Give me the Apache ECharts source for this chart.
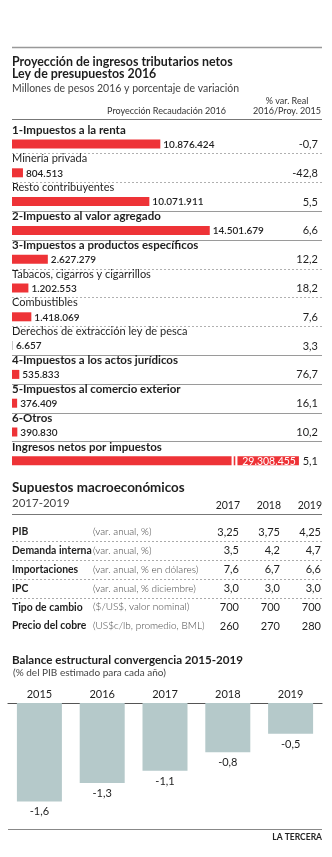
<!DOCTYPE html>
<html>
<head>
<meta charset="utf-8">
<script src="https://cdn.jsdelivr.net/npm/echarts@6/dist/echarts.min.js"></script>
<style>
html, body { margin: 0; padding: 0; background: #fff; }
#chart { width: 332px; height: 857px; }
</style>
</head>
<body>
<div id="chart"></div>
<script>
// Proyección de ingresos tributarios netos 2016
const rowNames = [
  '1-Impuestos a la renta',
  'Minería privada',
  'Resto contribuyentes',
  '2-Impuesto al valor agregado',
  '3-Impuestos a productos específicos',
  'Tabacos, cigarros y cigarrillos',
  'Combustibles',
  'Derechos de extracción ley de pesca',
  '4-Impuestos a los actos jurídicos',
  '5-Impuestos al comercio exterior',
  '6-Otros',
  'Ingresos netos por impuestos'
];
const rowValues = [10876424, 804513, 10071911, 14501679, 2627279, 1202553, 1418069, 6657, 535833, 376409, 390830, 29308455];
const rowChange = ['-0,7', '-42,8', '5,5', '6,6', '12,2', '18,2', '7,6', '3,3', '76,7', '16,1', '10,2', '5,1'];
const rowIsMain = [true, false, false, true, true, false, false, false, true, true, true, true];

// Supuestos macroeconómicos 2017-2019
const macroYears = ['2017', '2018', '2019'];
const macroNames = ['PIB', 'Demanda interna', 'Importaciones', 'IPC', 'Tipo de cambio', 'Precio del cobre'];
const macroUnits = ['(var. anual, %)', '(var. anual, %)', '(var. anual, % en dólares)', '(var. anual, % diciembre)', '($/US$, valor nominal)', '(US$c/lb, promedio, BML)'];
const macro2017 = [3.25, 3.5, 7.6, 3.0, 700, 260];
const macro2018 = [3.75, 4.2, 6.7, 3.0, 700, 270];
const macro2019 = [4.25, 4.7, 6.6, 3.0, 700, 280];
const macroDecimals = [2, 1, 1, 1, 0, 0];

// Balance estructural convergencia 2015-2019
const balanceYears = ['2015', '2016', '2017', '2018', '2019'];
const balanceValues = [-1.6, -1.3, -1.1, -0.8, -0.5];

// Value axis break for the total row
const AXIS_BREAK = { start: 16100000, end: 24800000, gap: '1.9%' };

const FONT = 'Lato';
const INK = '#1e1e1e';
const RED = '#ee3337';
const LEFT = 12, RIGHT = 322;

function fmtThousands(v) {
  return String(v).replace(/\B(?=(\d{3})+(?!\d))/g, '.');
}
function fmtDec(v, d) {
  return v.toFixed(d).replace('.', ',');
}

const chart = echarts.init(document.getElementById('chart'), null, { renderer: 'canvas' });

function renderRevenueRow(params, api) {
  const i = api.value(1);
  const v = api.value(0);
  const cs = params.coordSys;
  const band = api.size([0, 1])[1];
  const x0 = api.coord([0, i])[0];
  const p = api.coord([v, i]);
  const yc = p[1];
  const barH = 9;
  const barTop = yc + 5 - barH / 2;
  const children = [];

  // row name above the bar
  children.push({
    type: 'text',
    style: {
      x: cs.x, y: yc - 9, text: rowNames[i],
      font: (rowIsMain[i] ? 'bold 11.5px ' : '11px ') + FONT,
      fill: INK, textVerticalAlign: 'middle'
    }
  });

  if (v > AXIS_BREAK.end) {
    const b0 = api.coord([AXIS_BREAK.start, i])[0];
    const b1 = api.coord([AXIS_BREAK.end, i])[0];
    const mid = (b0 + b1) / 2;
    children.push({ type: 'rect', shape: { x: x0, y: barTop, width: b0 - x0, height: barH }, style: { fill: RED } });
    children.push({ type: 'rect', shape: { x: mid - 0.8, y: barTop, width: 1.6, height: barH }, style: { fill: RED } });
    children.push({ type: 'rect', shape: { x: b1, y: barTop, width: p[0] - b1, height: barH }, style: { fill: RED } });
    children.push({
      type: 'text',
      style: {
        x: p[0] - 3, y: barTop + barH / 2 + 0.5, text: fmtThousands(v),
        font: '10.5px ' + FONT, fill: '#fff', textAlign: 'right', textVerticalAlign: 'middle'
      }
    });
  } else {
    const w = Math.max(p[0] - x0, 1);
    children.push({
      type: 'rect', shape: { x: x0, y: barTop, width: w, height: barH },
      style: { fill: w < 2 ? '#c8c8c8' : RED }
    });
    children.push({
      type: 'text',
      style: {
        x: x0 + w + 3, y: barTop + barH / 2 + 0.5, text: fmtThousands(v),
        font: '600 10px ' + FONT, fill: INK, textVerticalAlign: 'middle'
      }
    });
  }

  // % change column
  children.push({
    type: 'text',
    style: {
      x: cs.x + cs.width - 4, y: barTop + barH / 2 + 0.5, text: rowChange[i],
      font: '11px ' + FONT, fill: INK, textAlign: 'right', textVerticalAlign: 'middle'
    }
  });

  // separator under the row
  if (i < rowNames.length - 1) {
    const ySep = Math.round(yc + band / 2) + 0.5;
    const nextSub = !rowIsMain[i + 1];
    children.push({
      type: 'line',
      shape: { x1: cs.x, y1: ySep, x2: cs.x + cs.width, y2: ySep },
      style: nextSub
        ? { stroke: '#b0b0b0', lineWidth: 1, lineDash: [2, 2] }
        : { stroke: '#9a9a9a', lineWidth: 1 }
    });
  }
  return { type: 'group', children };
}

function renderMacroRow(params, api) {
  const i = api.value(1);
  const band = api.size([0, 1])[1];
  const colBand = api.size([1, 0])[0];
  const yc = api.coord([0, i])[1];
  const cols = [macro2017, macro2018, macro2019];
  const children = [];

  if (i === 0) {
    macroYears.forEach((yr, c) => {
      const xc = api.coord([c, i])[0];
      children.push({
        type: 'text',
        style: {
          x: xc + colBand / 2, y: yc - 26.5, text: yr,
          font: '10.5px ' + FONT, fill: INK, textAlign: 'right', textVerticalAlign: 'middle'
        }
      });
    });
    const yl = Math.round(yc - 18) + 0.5;
    children.push({
      type: 'line', shape: { x1: LEFT, y1: yl, x2: RIGHT, y2: yl },
      style: { stroke: '#777', lineWidth: 1.2 }
    });
  }

  children.push({
    type: 'text',
    style: {
      x: LEFT, y: yc, text: macroNames[i],
      font: 'bold 10.4px ' + FONT, fill: INK, textVerticalAlign: 'middle'
    }
  });
  children.push({
    type: 'text',
    style: {
      x: 93, y: yc, text: macroUnits[i],
      font: '300 10px ' + FONT, fill: '#444', textVerticalAlign: 'middle'
    }
  });
  cols.forEach((arr, c) => {
    const xc = api.coord([c, i])[0];
    children.push({
      type: 'text',
      style: {
        x: xc + colBand / 2 - 1, y: yc, text: fmtDec(arr[i], macroDecimals[i]),
        font: '11px ' + FONT, fill: INK, textAlign: 'right', textVerticalAlign: 'middle'
      }
    });
  });
  if (i < 4) {
    const ySep = Math.round(yc + band / 2) + 0.5;
    children.push({
      type: 'line', shape: { x1: LEFT, y1: ySep, x2: RIGHT, y2: ySep },
      style: { stroke: '#aaa', lineWidth: 1, lineDash: [2, 2] }
    });
  }
  return { type: 'group', children };
}

function txt(x, y, text, font, fill, align) {
  return {
    type: 'text', x, y,
    style: { text, font: font + ' ' + FONT, fill: fill || INK, textAlign: align || 'left', textVerticalAlign: 'middle' }
  };
}
function hline(y, x1, x2, color, width) {
  return { type: 'line', shape: { x1, y1: y, x2, y2: y }, style: { stroke: color, lineWidth: width } };
}

const option = {
  backgroundColor: '#fff',
  animation: false,
  grid: [
    { left: LEFT, top: 124.6, width: RIGHT - LEFT, height: 12 * 28.8 },
    { left: 199, top: 522.6, width: 123, height: 6 * 18.8 },
    { left: 8, top: 703, width: 314, height: 123 }
  ],
  xAxis: [
    {
      gridIndex: 0, type: 'value', min: 0, max: 31000000, show: false,
      breaks: [AXIS_BREAK], breakArea: { show: false }
    },
    { gridIndex: 1, type: 'category', data: macroYears, show: false },
    {
      gridIndex: 2, type: 'category', data: balanceYears, position: 'top',
      axisLine: { show: true, lineStyle: { color: '#555', width: 1.2 } },
      axisTick: { show: false },
      axisLabel: { color: INK, fontFamily: FONT, fontSize: 11, margin: 3 }
    }
  ],
  yAxis: [
    { gridIndex: 0, type: 'category', data: rowNames, inverse: true, show: false },
    { gridIndex: 1, type: 'category', data: macroNames, inverse: true, show: false },
    { gridIndex: 2, type: 'value', min: -2, max: 0, show: false, splitLine: { show: false } }
  ],
  series: [
    {
      type: 'custom', xAxisIndex: 0, yAxisIndex: 0, clip: false,
      data: rowValues.map((v, i) => [v, i]),
      encode: { x: 0, y: 1 },
      renderItem: renderRevenueRow
    },
    {
      type: 'custom', xAxisIndex: 1, yAxisIndex: 1, clip: false,
      data: macroNames.map((n, i) => [0, i]),
      encode: { x: 0, y: 1 },
      renderItem: renderMacroRow
    },
    {
      type: 'bar', xAxisIndex: 2, yAxisIndex: 2,
      data: balanceValues, barWidth: 45,
      itemStyle: { color: '#b5c9ca' },
      label: {
        show: true, position: 'bottom', distance: 5,
        color: INK, fontFamily: FONT, fontSize: 11,
        formatter: p => fmtDec(p.value, 1)
      }
    }
  ],
  graphic: [
    hline(47.5, LEFT, RIGHT, '#999', 1.5),
    txt(LEFT, 62, 'Proyección de ingresos tributarios netos', 'bold 12.4px'),
    txt(LEFT, 74, 'Ley de presupuestos 2016', 'bold 12.4px'),
    txt(LEFT, 89, 'Millones de pesos 2016 y porcentaje de variación', '10.5px', '#444'),
    txt(226, 111, 'Proyección Recaudación 2016', '9px', '#333', 'right'),
    txt(287, 101, '% var. Real', '9px', '#333', 'center'),
    txt(287, 111, '2016/Proy. 2015', '9px', '#333', 'center'),
    hline(119.5, LEFT, RIGHT, '#777', 1.2),
    txt(LEFT, 488, 'Supuestos macroeconómicos', 'bold 13.4px'),
    txt(LEFT, 503, '2017-2019', '11.5px', '#444'),
    txt(LEFT, 660, 'Balance estructural convergencia 2015-2019', 'bold 11.6px'),
    txt(13, 673, '(% del PIB estimado para cada año)', '10px', '#444'),
    hline(829.5, 8, RIGHT, '#888', 1.2),
    txt(RIGHT, 837, 'LA TERCERA', 'bold 8.5px', '#222', 'right')
  ]
};

chart.setOption(option);
</script>
</body>
</html>
